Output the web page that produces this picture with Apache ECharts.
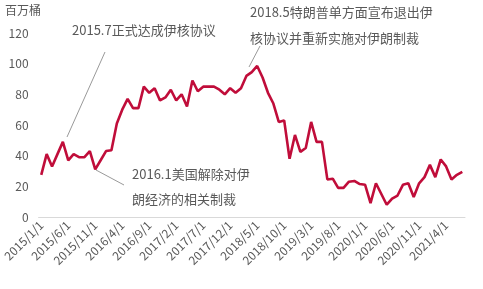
<!DOCTYPE html>
<html><head><meta charset="utf-8">
<script src="https://cdn.jsdelivr.net/npm/echarts@6/dist/echarts.min.js"></script>
<style>html,body{margin:0;padding:0;background:#fff}#c{width:483px;height:289px}</style>
</head><body><div id="c"></div>
<script>
var categories = [
'2015/1/1','2015/2/1','2015/3/1','2015/4/1','2015/5/1','2015/6/1','2015/7/1','2015/8/1','2015/9/1','2015/10/1','2015/11/1','2015/12/1',
'2016/1/1','2016/2/1','2016/3/1','2016/4/1','2016/5/1','2016/6/1','2016/7/1','2016/8/1','2016/9/1','2016/10/1','2016/11/1','2016/12/1',
'2017/1/1','2017/2/1','2017/3/1','2017/4/1','2017/5/1','2017/6/1','2017/7/1','2017/8/1','2017/9/1','2017/10/1','2017/11/1','2017/12/1',
'2018/1/1','2018/2/1','2018/3/1','2018/4/1','2018/5/1','2018/6/1','2018/7/1','2018/8/1','2018/9/1','2018/10/1','2018/11/1','2018/12/1',
'2019/1/1','2019/2/1','2019/3/1','2019/4/1','2019/5/1','2019/6/1','2019/7/1','2019/8/1','2019/9/1','2019/10/1','2019/11/1','2019/12/1',
'2020/1/1','2020/2/1','2020/3/1','2020/4/1','2020/5/1','2020/6/1','2020/7/1','2020/8/1','2020/9/1','2020/10/1','2020/11/1','2020/12/1',
'2021/1/1','2021/2/1','2021/3/1','2021/4/1','2021/5/1','2021/6/1','2021/7/1'];
var values = [
27.5,41,33,41,49,37,41,39,39,43,31,37,
43,43.5,61,70,77,71,71,85,81,84,76,78,
83,76,80,72,89,82,85,85,85,83,80,84,
81,84,92,94.5,98.5,91,81,74,62,63,38,53.5,
42.5,45,62,49,49,24.5,25,19,19,23,23.5,21.5,
21,9,22,15,8,12,14,21,22,13,22,26,
34,26,37.5,33,24.5,27.5,29.5];
var yTicks = [0,20,40,60,80,100,120];
var unitName = '百万桶';
var notes = [
  ['2015.7正式达成伊核协议'],
  ['2016.1美国解除对伊','朗经济的相关制裁'],
  ['2018.5特朗普单方面宣布退出伊','核协议并重新实施对伊朗制裁']
];

var chart = echarts.init(document.getElementById('c'), null, {renderer:'canvas'});
var txtColor = '#595959';
var cjk = "'Microsoft YaHei','Noto Sans CJK SC',sans-serif";
function noteText(x, y, s){
  return {type:'text', left:x, top:y, style:{text:s, fill:txtColor, font:'13px '+cjk}};
}
function lead(x1,y1,x2,y2){
  return {type:'line', shape:{x1:x1,y1:y1,x2:x2,y2:y2}, style:{stroke:'#7f7f7f', lineWidth:0.8}};
}
chart.setOption({
  animation:false,
  grid:{left:37, right:18, top:33, bottom:72},
  xAxis:{
    type:'category', data:categories, boundaryGap:true,
    axisLine:{lineStyle:{color:'#d9d9d9'}},
    axisTick:{interval:4, length:4, lineStyle:{color:'#d9d9d9'}},
    axisLabel:{interval:4, rotate:45, color:txtColor, fontSize:12, margin:6, fontFamily:cjk}
  },
  yAxis:{
    type:'value', min:yTicks[0], max:yTicks[yTicks.length-1], interval:20,
    axisLine:{show:false}, axisTick:{show:false}, splitLine:{show:false},
    axisLabel:{color:txtColor, fontSize:12, margin:10, fontFamily:cjk}
  },
  series:[{
    type:'line', data:values, symbol:'none',
    lineStyle:{color:'#C00D3A', width:2.6}, itemStyle:{color:'#C00D3A'}
  }],
  graphic:[
    {type:'text', left:5, top:4, style:{text:unitName, fill:txtColor, font:'12px '+cjk}},
    noteText(72, 24, notes[0][0]),
    noteText(132, 168, notes[1][0]),
    noteText(132, 193, notes[1][1]),
    noteText(250, 6, notes[2][0]),
    noteText(250, 32, notes[2][1]),
    lead(105,52,67,137),
    lead(96,170,124,185),
    lead(260,46,249,67)
  ]
});
</script></body></html>
